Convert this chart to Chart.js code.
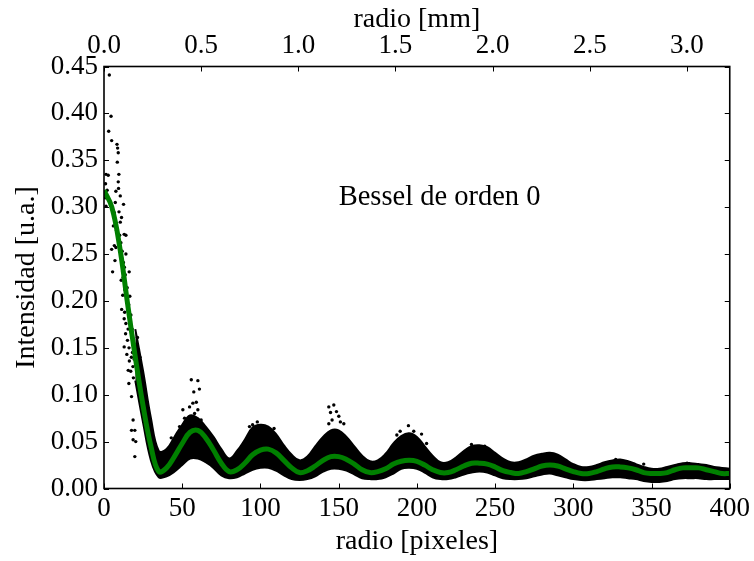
<!DOCTYPE html>
<html><head><meta charset="utf-8">
<script src="https://cdn.jsdelivr.net/npm/chart.js@4.4.1/dist/chart.umd.min.js"></script>
<style>html,body{margin:0;padding:0;background:#fff}#wrap{width:754px;height:561px}</style>
</head><body><div id="wrap"><canvas id="c" width="754" height="561"></canvas></div>
<script>
// Bessel fit (green line), radius in pixels
const fitX = [0,5,10,15,20,25,30,35,40,45,50,55,60,65,70,75,80,85,90,95,100,105,110,115,120,125,130,135,140,145,150,155,160,165,170,175,180,185,190,195,200,205,210,215,220,225,230,235,240,245,250,255,260,265,270,275,280,285,290,295,300,305,310,315,320,325,330,335,340,345,350,355,360,365,370,375,380,385,390,395,400];
const fitY = [0.318,0.300,0.258,0.198,0.140,0.088,0.045,0.018,0.022,0.034,0.048,0.060,0.062,0.054,0.041,0.027,0.018,0.020,0.027,0.036,0.041,0.042,0.038,0.030,0.022,0.017,0.019,0.024,0.030,0.034,0.034,0.031,0.026,0.020,0.017,0.018,0.021,0.026,0.029,0.030,0.029,0.025,0.020,0.017,0.017,0.020,0.024,0.027,0.027,0.026,0.023,0.019,0.017,0.016,0.018,0.021,0.024,0.025,0.024,0.021,0.018,0.016,0.016,0.018,0.021,0.023,0.023,0.022,0.020,0.017,0.016,0.016,0.017,0.020,0.022,0.022,0.022,0.020,0.018,0.016,0.016];

// Dense measured cloud: upper / lower envelope
const bandX = [20,25,30,35,40,45,50,55,60,65,70,75,80,85,90,95,100,105,110,115,120,125,130,135,140,145,150,155,160,165,170,175,180,185,190,195,200,205,210,215,220,225,230,235,240,245,250,255,260,265,270,275,280,285,290,295,300,305,310,315,320,325,330,335,340,345,350,355,360,365,370,375,380,385,390,395,400];
const bandUpper = [0.170,0.125,0.075,0.040,0.042,0.055,0.068,0.078,0.075,0.066,0.055,0.042,0.032,0.040,0.052,0.065,0.068,0.066,0.058,0.046,0.036,0.030,0.034,0.045,0.055,0.062,0.062,0.055,0.045,0.035,0.029,0.030,0.037,0.048,0.056,0.059,0.055,0.045,0.035,0.028,0.028,0.033,0.040,0.045,0.046,0.044,0.038,0.032,0.028,0.028,0.031,0.035,0.037,0.038,0.036,0.031,0.026,0.023,0.023,0.025,0.028,0.030,0.031,0.029,0.026,0.023,0.021,0.021,0.023,0.025,0.027,0.027,0.026,0.025,0.023,0.022,0.021];
const bandLower = [0.115,0.070,0.030,0.012,0.013,0.018,0.025,0.032,0.032,0.028,0.022,0.014,0.011,0.012,0.016,0.020,0.022,0.022,0.019,0.014,0.010,0.009,0.010,0.013,0.018,0.021,0.021,0.019,0.015,0.011,0.010,0.010,0.012,0.016,0.021,0.022,0.021,0.017,0.012,0.010,0.010,0.012,0.015,0.017,0.018,0.017,0.014,0.011,0.010,0.010,0.011,0.013,0.015,0.016,0.014,0.012,0.010,0.009,0.009,0.010,0.011,0.012,0.012,0.011,0.010,0.008,0.007,0.007,0.008,0.010,0.011,0.011,0.011,0.010,0.010,0.010,0.010];

// Sparse measured points
const dotX = [3.4,4.5,3.0,4.9,8.3,8.7,9.1,8.5,1.3,2.7,9.5,9.1,9.3,7.6,10.4,1.3,12.5,4.9,6.6,10.4,12.9,14.0,7.6,4.9,6.6,5.5,7.0,14.0,11.9,16.1,11.3,12.9,21.4,12.9,11.5,12.2,13.3,14.5,15.2,16.5,17.2,18.0,19.0,13.8,15.0,16.0,17.5,18.5,22.0,23.0,24.3,15.5,17.6,18.6,19.7,20.3,22.9,24.0,17.6,18.6,19.7,
  10.8,11.6,12.4,13.0,11.0,13.6,14.8,12.0,15.8,13.2,14.0,16.8,15.4,17.8,14.6,16.2,18.2,19.2,15.9,17.1,18.8,2.0,1.0,0.8,6.0,8.0,10.0,9.6,11.2,7.2,
  55.8,60.0,57.4,61.0,56.8,59.0,54.7,50.4,60.0,51.5,48.3,43.0,62.1,57.9,
  95.0,98.0,104.5,108.7,93.0,
  143.7,146.9,144.8,148.6,150.1,145.8,151.1,153.3,143.7,
  194.6,187.2,189.3,198.0,203.0,
  206.2,234.9,243.4,280.4,327.1,345.0,372.7];
const dotY = [0.441,0.397,0.381,0.371,0.367,0.363,0.358,0.348,0.335,0.334,0.335,0.327,0.320,0.317,0.312,0.301,0.303,0.299,0.294,0.284,0.271,0.270,0.257,0.255,0.259,0.231,0.243,0.250,0.231,0.231,0.191,0.181,0.161,0.151,0.245,0.225,0.212,0.200,0.190,0.205,0.185,0.170,0.155,0.165,0.158,0.150,0.140,0.130,0.148,0.140,0.125,0.126,0.098,0.073,0.062,0.050,0.116,0.101,0.062,0.052,0.034,
  0.262,0.253,0.241,0.236,0.222,0.228,0.214,0.206,0.196,0.188,0.176,0.178,0.170,0.162,0.143,0.136,0.145,0.138,0.112,0.125,0.118,0.318,0.325,0.310,0.280,0.275,0.270,0.295,0.289,0.305,
  0.116,0.115,0.103,0.106,0.091,0.092,0.087,0.084,0.084,0.075,0.066,0.054,0.073,0.080,
  0.068,0.071,0.062,0.064,0.066,
  0.087,0.089,0.081,0.082,0.077,0.073,0.071,0.069,0.069,
  0.067,0.057,0.061,0.061,0.058,
  0.048,0.047,0.045,0.036,0.031,0.026,0.027];

const xTicks = [0,50,100,150,200,250,300,350,400];
const yTicks = [0,0.05,0.10,0.15,0.20,0.25,0.30,0.35,0.40,0.45];
const mmTicks = [0,0.5,1.0,1.5,2.0,2.5,3.0];
const mmMax = 3.22;
const noteText = 'Bessel de orden 0';
const noteX = 150, noteY = 0.31;

const FAMILY = "'Liberation Serif', 'DejaVu Serif', serif";
const FONT = {family: FAMILY, size: 27};
const TFONT = {family: FAMILY, size: 28};
const toPts = (xs, ys) => xs.map((x, i) => ({x: x, y: ys[i]}));

const framePlugin = {
  id: 'frame',
  afterDraw(chart) {
    const ctx = chart.ctx, a = chart.chartArea;
    const sx = chart.scales.x, sy = chart.scales.y, sm = chart.scales.x2;
    const L = 5;
    ctx.save();
    ctx.strokeStyle = '#000';
    ctx.lineWidth = 1;
    ctx.beginPath();
    xTicks.forEach(v => { const p = Math.round(sx.getPixelForValue(v)) + 0.5; ctx.moveTo(p, a.bottom); ctx.lineTo(p, a.bottom - L); });
    mmTicks.forEach(v => { const p = Math.round(sm.getPixelForValue(v)) + 0.5; ctx.moveTo(p, a.top); ctx.lineTo(p, a.top + L); });
    yTicks.forEach(v => { const p = Math.round(sy.getPixelForValue(v)) + 0.5; ctx.moveTo(a.left, p); ctx.lineTo(a.left + L, p); ctx.moveTo(a.right, p); ctx.lineTo(a.right - L, p); });
    ctx.stroke();
    ctx.lineWidth = 1.6;
    ctx.strokeRect(a.left, a.top, a.right - a.left, a.bottom - a.top);
    ctx.fillStyle = '#000';
    ctx.font = '28.5px ' + FAMILY;
    ctx.textAlign = 'left';
    ctx.textBaseline = 'middle';
    ctx.fillText(noteText, sx.getPixelForValue(noteX), sy.getPixelForValue(noteY));
    ctx.restore();
  }
};

new Chart(document.getElementById('c'), {
  type: 'scatter',
  data: {
    datasets: [
      {type: 'line', label: 'fit', data: toPts(fitX, fitY), borderColor: '#008000', borderWidth: 5, pointRadius: 0, tension: 0.4, fill: false, order: 0},
      {type: 'scatter', label: 'dots', data: toPts(dotX, dotY), backgroundColor: '#000', borderWidth: 0, pointRadius: 1.7, order: 1},
      {type: 'line', label: 'upper', data: toPts(bandX, bandUpper), borderColor: '#000', backgroundColor: '#000', borderWidth: 2, pointRadius: 0, tension: 0.4, fill: '+1', order: 2},
      {type: 'line', label: 'lower', data: toPts(bandX, bandLower), borderColor: '#000', borderWidth: 2, pointRadius: 0, tension: 0.4, fill: false, order: 3}
    ]
  },
  options: {
    responsive: false,
    animation: false,
    devicePixelRatio: 1,
    layout: {padding: {left: 0, right: 21, top: 0, bottom: 0}},
    plugins: {legend: {display: false}, tooltip: {enabled: false}},
    scales: {
      x: {
        type: 'linear', position: 'bottom', min: 0, max: 400,
        afterBuildTicks: s => { s.ticks = xTicks.map(v => ({value: v})); },
        afterFit: s => { s.height = 72.5; },
        ticks: {font: FONT, color: '#000', padding: 4, maxRotation: 0, autoSkip: false, callback: v => String(v)},
        grid: {display: false, drawTicks: false},
        border: {display: false},
        title: {display: true, text: 'radio [pixeles]', font: TFONT, color: '#000', padding: {top: 0, bottom: 3}}
      },
      x2: {
        type: 'linear', position: 'top', min: 0, max: mmMax,
        afterBuildTicks: s => { s.ticks = mmTicks.map(v => ({value: v})); },
        afterFit: s => { s.height = 66.5; },
        ticks: {font: FONT, color: '#000', padding: 4, maxRotation: 0, autoSkip: false, callback: v => Number(v).toFixed(1)},
        grid: {display: false, drawTicks: false},
        border: {display: false},
        title: {display: true, text: 'radio [mm]', font: TFONT, color: '#000', padding: {top: 3, bottom: 0}}
      },
      y: {
        type: 'linear', position: 'left', min: 0, max: 0.45,
        afterBuildTicks: s => { s.ticks = yTicks.map(v => ({value: v})); },
        afterFit: s => { s.width = 104; },
        ticks: {font: FONT, color: '#000', padding: 6, autoSkip: false, callback: v => Number(v).toFixed(2)},
        grid: {display: false, drawTicks: false},
        border: {display: false},
        title: {display: true, text: 'Intensidad [u.a.]', font: TFONT, color: '#000', padding: {top: 10, bottom: 0}}
      }
    }
  },
  plugins: [framePlugin]
});
</script>
</body></html>
